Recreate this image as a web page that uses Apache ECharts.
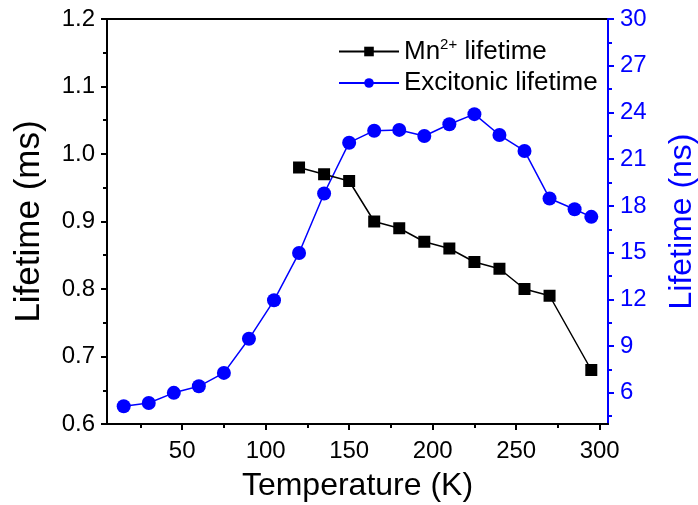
<!DOCTYPE html>
<html>
<head>
<meta charset="utf-8">
<script src="https://cdn.jsdelivr.net/npm/echarts@6/dist/echarts.min.js"></script>
<style>html,body{margin:0;padding:0;background:#fff}#c{width:698px;height:505px}</style>
</head>
<body>
<div id="c"></div>
<script>
const mnTemps = [120, 135, 150, 165, 180, 195, 210, 225, 240, 255, 270, 295];
const mnLifetime = [0.98, 0.97, 0.96, 0.90, 0.89, 0.87, 0.86, 0.84, 0.83, 0.80, 0.79, 0.68];
const excTemps = [15, 30, 45, 60, 75, 90, 105, 120, 135, 150, 165, 180, 195, 210, 225, 240, 255, 270, 285, 295];
const excLifetime = [5.14, 5.35, 6.0, 6.42, 7.28, 9.47, 11.94, 14.98, 18.8, 22.06, 22.83, 22.88, 22.49, 23.24, 23.89, 22.55, 21.53, 18.48, 17.79, 17.3];
const xTicks = [50, 100, 150, 200, 250, 300];
const xMinorTicks = [25, 75, 125, 175, 225, 275];
const rightTicks = [6, 9, 12, 15, 18, 21, 24, 27, 30];
const rightMinorTicks = [4.5, 7.5, 10.5, 13.5, 16.5, 19.5, 22.5, 25.5, 28.5];

const FONT = 'Liberation Sans, Arial, sans-serif';
const BLUE = '#0000ff';
const chart = echarts.init(document.getElementById('c'), null, {renderer: 'canvas'});
const zip = (a, b) => a.map((v, i) => [v, b[i]]);

const legendBase = {
  orient: 'vertical', left: 333, itemGap: 0,
  itemWidth: 60, itemHeight: 12,
  textStyle: {fontSize: 26, color: '#000', fontFamily: FONT, padding: [0, 0, 0, 0],
    rich: {sup: {fontSize: 15, color: '#000', fontFamily: FONT, padding: [0, 0, 14, 0]}}},
  formatter: n => n === 'Mn2+ lifetime' ? 'Mn{sup|2+} lifetime' : n
};

chart.setOption({
  animation: false,
  textStyle: {fontFamily: FONT},
  grid: {left: 107, right: 90, top: 19, bottom: 81, outerBoundsMode: 'none', containLabel: false,
    show: true, borderColor: '#000', borderWidth: 2, backgroundColor: 'transparent'},
  legend: [
    Object.assign({}, legendBase, {top: 32, data: ['Mn2+ lifetime']}),
    Object.assign({}, legendBase, {top: 65, data: ['Excitonic lifetime']})
  ],
  xAxis: [{
    type: 'value', min: 5, max: 305, position: 'bottom',
    axisLine: {show: true, lineStyle: {color: '#000', width: 2}},
    axisTick: {show: true, customValues: xTicks, length: 6, lineStyle: {width: 2, color: '#000'}},
    axisLabel: {customValues: xTicks, fontSize: 24, color: '#000', margin: 15, fontFamily: FONT},
    splitLine: {show: false},
    name: 'Temperature (K)', nameLocation: 'middle', nameGap: 46,
    nameTextStyle: {fontSize: 32, color: '#000', fontFamily: FONT}
  }, {
    type: 'value', min: 5, max: 305, position: 'bottom',
    axisLine: {show: false},
    axisTick: {show: true, customValues: xMinorTicks, length: 4, lineStyle: {width: 2, color: '#000'}},
    axisLabel: {show: false}, splitLine: {show: false}
  }],
  yAxis: [{
    type: 'value', min: 0.6, max: 1.2, interval: 0.1, position: 'left',
    axisLine: {show: true, lineStyle: {color: '#000', width: 2}},
    axisTick: {show: true, length: 6, lineStyle: {width: 2, color: '#000'}},
    minorTick: {show: true, splitNumber: 2, length: 4, lineStyle: {width: 2, color: '#000'}},
    axisLabel: {fontSize: 24, color: '#000', margin: 12, formatter: v => v.toFixed(1), fontFamily: FONT},
    splitLine: {show: false},
    name: 'Lifetime (ms)', nameLocation: 'middle', nameGap: 60, nameRotate: 90,
    nameTextStyle: {fontSize: 35, color: '#000', fontFamily: FONT}
  }, {
    type: 'value', min: 4, max: 30, position: 'right',
    axisLine: {show: true, lineStyle: {color: BLUE, width: 2}},
    axisTick: {show: true, customValues: rightTicks, length: 6, lineStyle: {width: 2, color: BLUE}},
    axisLabel: {customValues: rightTicks, fontSize: 24, color: BLUE, margin: 12, fontFamily: FONT},
    splitLine: {show: false},
    name: 'Lifetime (ns)', nameLocation: 'middle', nameGap: 58, nameRotate: 90,
    nameTextStyle: {fontSize: 32, color: BLUE, fontFamily: FONT}
  }, {
    type: 'value', min: 4, max: 30, position: 'right',
    axisLine: {show: false},
    axisTick: {show: true, customValues: rightMinorTicks, length: 4, lineStyle: {width: 2, color: BLUE}},
    axisLabel: {show: false}, splitLine: {show: false}
  }],
  series: [{
    name: 'Mn2+ lifetime', type: 'line', xAxisIndex: 0, yAxisIndex: 0,
    data: zip(mnTemps, mnLifetime),
    symbol: 'rect', symbolSize: 12,
    itemStyle: {color: '#000'}, lineStyle: {color: '#000', width: 1.5}, z: 3
  }, {
    name: 'Excitonic lifetime', type: 'line', xAxisIndex: 0, yAxisIndex: 1,
    data: zip(excTemps, excLifetime),
    symbol: 'circle', symbolSize: 14,
    itemStyle: {color: BLUE}, lineStyle: {color: BLUE, width: 1.5}, z: 2
  }]
});
</script>
</body>
</html>
